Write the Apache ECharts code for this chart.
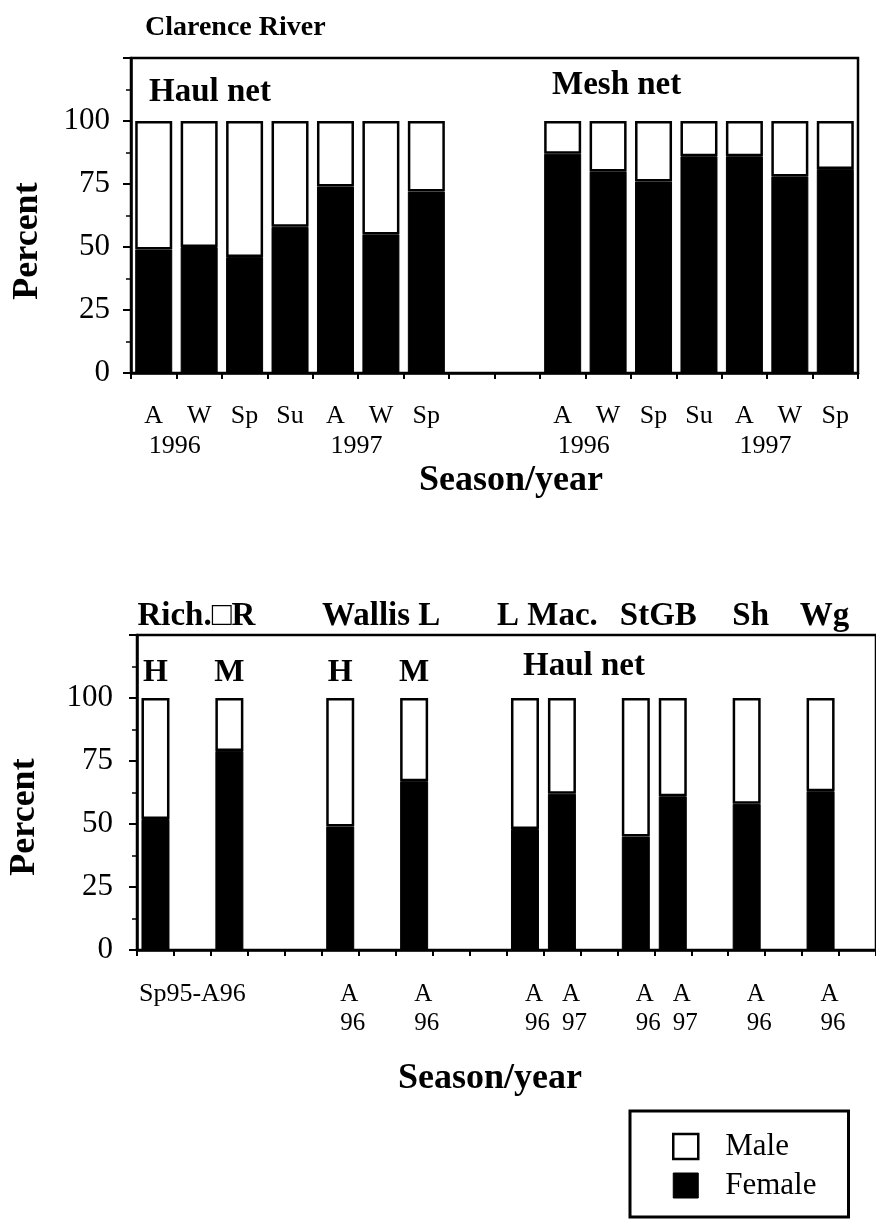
<!DOCTYPE html>
<html><head><meta charset="utf-8">
<script src="https://cdn.jsdelivr.net/npm/echarts@6/dist/echarts.min.js"></script>
<style>html,body{margin:0;padding:0;background:#fff}#c{width:876px;height:1219px}</style>
</head><body><div id="c"></div>
<script>
// ---------- data ----------
const topSeasonLabels = ['A','W','Sp','Su','A','W','Sp','','','A','W','Sp','Su','A','W','Sp'];
const topYearLabels   = ['1996','','','','1997','','','','','1996','','','','1997','',''];
const haulFemale = [49, 50, 46, 58, 74, 55, 72];
const haulMale   = [51, 50, 54, 42, 26, 45, 28];
const meshFemale = [87, 80, 76, 86, 86, 78, 81];
const meshMale   = [13, 20, 24, 14, 14, 22, 19];

const bottomSeasonLabels = ['', 'Sp95-A96', '', '', '', 'A', '', 'A', '', '', 'A', 'A', '', 'A', 'A', '', 'A', '', 'A', ''];
const bottomYearLabels   = ['', '', '', '', '', '96', '', '96', '', '', '96', '97', '', '96', '97', '', '96', '', '96', ''];
const bottomNetLabels    = ['H', '', 'M', '', '', 'H', '', 'M', '', '', '', '', '', '', '', '', '', '', '', ''];
const bottomFemale = [52, null, 79, null, null, 49, null, 67, null, null, 48, 62, null, 45, 61, null, 58, null, 63, null];
const bottomMale   = [48, null, 21, null, null, 51, null, 33, null, null, 52, 38, null, 55, 39, null, 42, null, 37, null];

const siteNames = ['Rich.\u25A1R', 'Wallis L', 'L Mac.', 'StGB', 'Sh', 'Wg'];
const siteFirst = [0, 5, 10, 13, 16, 18];
const siteLast  = [2, 7, 11, 14, 16, 18];

const yTickLabels = [0, 25, 50, 75, 100];

// ---------- chart ----------
const FONT = '"Liberation Serif", "Times New Roman", serif';
const K = '#000';
const chart = echarts.init(document.getElementById('c'), null, {renderer: 'canvas'});

function yAxisCfg(gridIndex, margin) {
  return {
    type: 'value', gridIndex, min: 0, max: 125, interval: 25,
    axisLine: {show: true, lineStyle: {color: K, width: 2.5}},
    axisTick: {show: true, inside: false, length: 8, lineStyle: {color: K, width: 2}},
    minorTick: {show: true, splitNumber: 2, length: 5, lineStyle: {color: K, width: 1.5}},
    splitLine: {show: false},
    axisLabel: {margin, fontFamily: FONT, fontSize: 31, color: K,
      formatter: v => yTickLabels.includes(v) ? String(v) : ''}
  };
}

const topFemale = haulFemale.concat([null, null], meshFemale);
const topMale = haulMale.concat([null, null], meshMale);

const option = {
  animation: false,
  backgroundColor: '#fff',
  grid: [
    {left: 131, top: 58, width: 727, height: 315, show: true, borderColor: K, borderWidth: 2.5, backgroundColor: 'transparent'},
    {left: 137, top: 635, width: 746, height: 315, show: true, borderColor: K, borderWidth: 2.5, backgroundColor: 'transparent'}
  ],
  xAxis: [
    {type: 'category', gridIndex: 0, data: topSeasonLabels,
     axisLine: {lineStyle: {color: K, width: 2.5}},
     axisTick: {show: true, inside: false, length: 6, lineStyle: {color: K, width: 2}},
     axisLabel: {interval: 0, margin: 30, fontFamily: FONT, fontSize: 26, lineHeight: 26, color: K}},
    {type: 'category', gridIndex: 1, data: bottomSeasonLabels,
     axisLine: {lineStyle: {color: K, width: 2.5}},
     axisTick: {show: true, inside: false, length: 6, lineStyle: {color: K, width: 2}},
     axisLabel: {interval: 0, margin: 30, align: 'left', fontFamily: FONT, fontSize: 25, lineHeight: 29, color: K,
       formatter: (v, i) => bottomYearLabels[i] ? bottomSeasonLabels[i] + '\n' + bottomYearLabels[i] : ''}},
    {type: 'category', gridIndex: 1, data: bottomSeasonLabels, position: 'bottom',
     axisLine: {show: false}, axisTick: {show: false},
     axisLabel: {interval: 0, margin: 30, fontFamily: FONT, fontSize: 26, lineHeight: 29, color: K,
       formatter: (v, i) => bottomYearLabels[i] ? '' : bottomSeasonLabels[i]}}
  ],
  yAxis: [yAxisCfg(0, 21), yAxisCfg(1, 24)],
  legend: {
    orient: 'vertical', left: 630, bottom: 2,
    data: [
      {name: 'Male', itemStyle: {color: '#fff', borderColor: K, borderWidth: 2.5}},
      {name: 'Female', itemStyle: {color: K, borderColor: K, borderWidth: 1}}
    ],
    icon: 'rect', itemWidth: 25, itemHeight: 25, itemGap: 8,
    borderColor: K, borderWidth: 3, padding: [20, 32, 16, 42],
    selectedMode: false,
    textStyle: {fontFamily: FONT, fontSize: 31, lineHeight: 25, color: K, padding: [0, 0, 0, 22]}
  },
  series: [
    {type: 'bar', name: 'Female', xAxisIndex: 0, yAxisIndex: 0, stack: 'top', barWidth: 37,
     data: topFemale, itemStyle: {color: K, borderColor: K, borderWidth: 1}},
    {type: 'bar', name: 'Male', xAxisIndex: 0, yAxisIndex: 0, stack: 'top', barWidth: 37,
     data: topMale, itemStyle: {color: '#fff', borderColor: K, borderWidth: 2.5}},
    {type: 'bar', name: 'Female', xAxisIndex: 1, yAxisIndex: 1, stack: 'bot', barWidth: 28,
     data: bottomFemale, itemStyle: {color: K, borderColor: K, borderWidth: 1}},
    {type: 'bar', name: 'Male', xAxisIndex: 1, yAxisIndex: 1, stack: 'bot', barWidth: 28,
     data: bottomMale, itemStyle: {color: '#fff', borderColor: K, borderWidth: 2.5},
     label: {show: true, position: 'top', distance: 9, fontFamily: FONT, fontWeight: 'bold', fontSize: 32, color: K,
       formatter: p => bottomNetLabels[p.dataIndex]}}
  ]
};
chart.setOption(option);

function txt(text, x, y, size, opts) {
  opts = opts || {};
  const align = opts.align || 'left';
  return {
    type: 'text', x, y, rotation: opts.rotation || 0, silent: true,
    style: {
      text, fill: K,
      font: (opts.weight || 'normal') + ' ' + size + 'px ' + FONT,
      align, verticalAlign: 'middle', textAlign: align, textVerticalAlign: 'middle'
    }
  };
}

const g = [];
g.push(txt('Clarence River', 145, 28, 28, {weight: 'bold'}));
g.push(txt('Haul net', 149, 92, 33, {weight: 'bold'}));
g.push(txt('Mesh net', 552, 85, 33, {weight: 'bold'}));
g.push(txt('Season/year', 511, 481, 36, {weight: 'bold', align: 'center'}));
g.push(txt('Percent', 28, 241, 36, {weight: 'bold', align: 'center', rotation: Math.PI / 2}));
g.push(txt('Percent', 25, 817, 36, {weight: 'bold', align: 'center', rotation: Math.PI / 2}));
g.push(txt('Haul net', 523, 666, 33, {weight: 'bold'}));
g.push(txt('Season/year', 490, 1079, 36, {weight: 'bold', align: 'center'}));

// year labels under the top axis, left-aligned with the season letter
topYearLabels.forEach((yr, i) => {
  if (!yr) return;
  const cx = chart.convertToPixel({xAxisIndex: 0}, i);
  g.push(txt(yr, cx - 5, 446, 26));
});
// site names above the bottom frame, centred over their bar groups
siteNames.forEach((nm, k) => {
  const a = chart.convertToPixel({xAxisIndex: 1}, siteFirst[k]);
  const b = chart.convertToPixel({xAxisIndex: 1}, siteLast[k]);
  g.push(txt(nm, (a + b) / 2 + 4, 616, 33, {weight: 'bold', align: 'center'}));
});
chart.setOption({graphic: {elements: g}});
</script>
</body></html>
